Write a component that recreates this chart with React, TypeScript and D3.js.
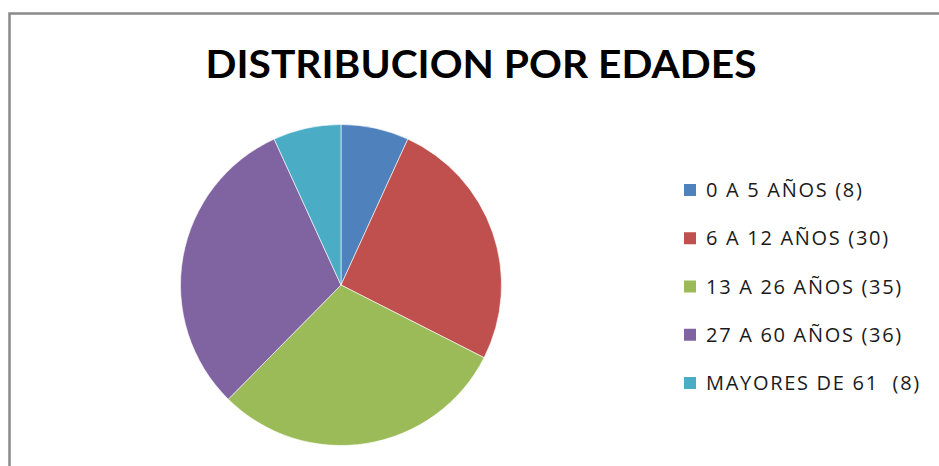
import React, { useRef, useEffect } from 'react';
import * as d3 from 'd3';

const categories = ['0 A 5 AÑOS (8)', '6 A 12 AÑOS (30)', '13 A 26 AÑOS (35)', '27 A 60 AÑOS (36)', 'MAYORES DE 61  (8)'];
const values = [8, 30, 35, 36, 8];
const colors = ['#4F81BD', '#C0504D', '#9BBB59', '#8064A2', '#4BACC6'];
const title = 'DISTRIBUCION POR EDADES';

const App = () => {
  const ref = useRef<SVGSVGElement>(null);

  useEffect(() => {
    const width = 939;
    const height = 466;
    const svg = d3.select(ref.current);
    svg.selectAll('*').remove();
    svg.attr('width', width).attr('height', height);

    // chart frame (right / bottom edges fall outside the picture)
    svg.append('rect')
      .attr('x', 9.5).attr('y', 13.5)
      .attr('width', 980).attr('height', 520)
      .attr('fill', '#fff')
      .attr('stroke', '#8a8a8a')
      .attr('stroke-width', 2.5);

    svg.append('text')
      .attr('x', 481).attr('y', 78)
      .attr('text-anchor', 'middle')
      .attr('font-family', 'Lato, "Open Sans", sans-serif')
      .attr('font-weight', 'bold')
      .attr('font-size', 39)
      .attr('fill', '#000')
      .attr('textLength', 551)
      .attr('lengthAdjust', 'spacingAndGlyphs')
      .text(title);

    const pie = d3.pie<number>().sort(null).value(d => d);
    const arc = d3.arc<d3.PieArcDatum<number>>().innerRadius(0).outerRadius(160.5);

    const g = svg.append('g').attr('transform', 'translate(341,285)');
    g.selectAll('path')
      .data(pie(values))
      .join('path')
      .attr('d', arc)
      .attr('fill', (d, i) => colors[i])
      .attr('stroke', '#fff')
      .attr('stroke-width', 0.6);

    // legend
    const y = d3.scalePoint<string>().domain(categories).range([190, 383]);
    const leg = svg.append('g')
      .selectAll('g')
      .data(categories)
      .join('g')
      .attr('transform', d => `translate(684,${y(d)})`);

    leg.append('rect')
      .attr('x', 0).attr('y', -6)
      .attr('width', 12).attr('height', 12)
      .attr('fill', (d, i) => colors[i]);

    leg.append('text')
      .attr('x', 22).attr('y', 7)
      .attr('font-family', '"Open Sans", Lato, sans-serif')
      .attr('font-size', 20)
      .attr('letter-spacing', 1.7)
      .attr('fill', '#1a1a1a')
      .style('white-space', 'pre')
      .text(d => d);
  }, []);

  return (
    <div style={{ position: 'absolute', left: 0, top: 0 }}>
      <svg ref={ref} style={{ display: 'block' }}></svg>
    </div>
  );
};

export default App;
